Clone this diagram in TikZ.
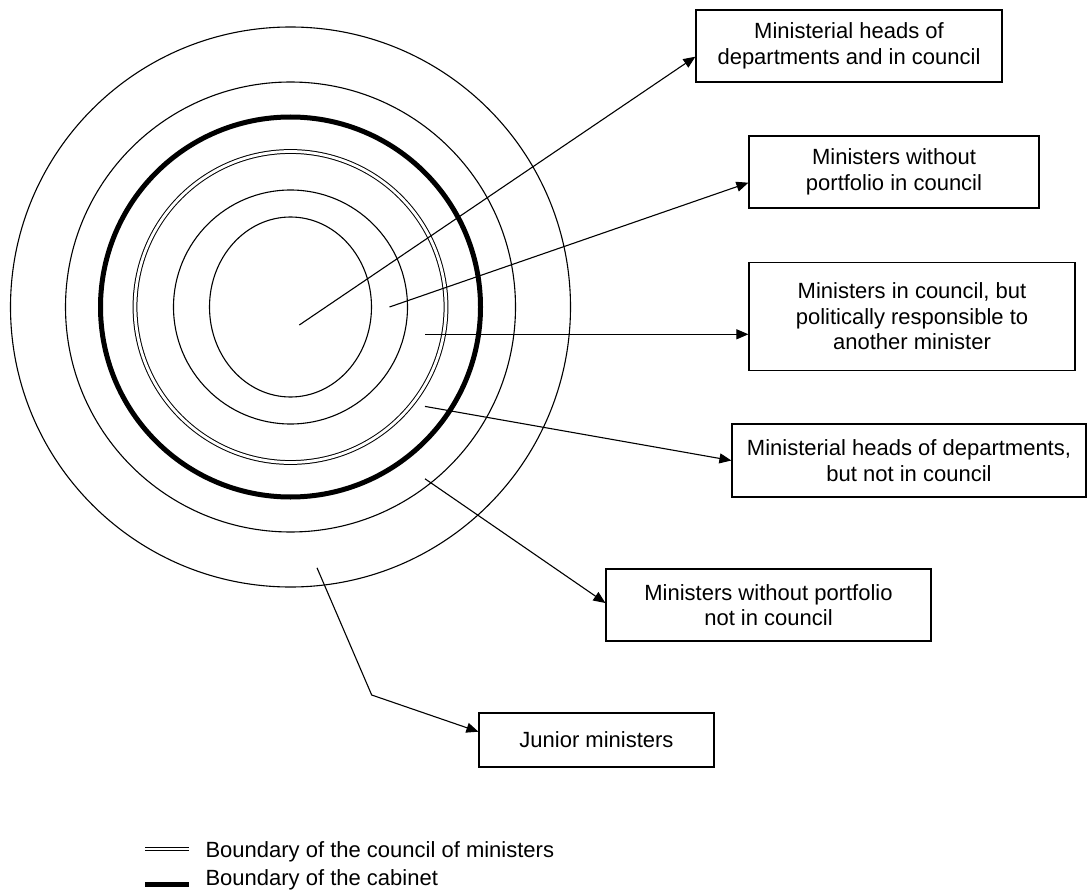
\documentclass[tikz,border=0pt]{standalone}
\usepackage{fontspec}
\setmainfont{Liberation Sans}
\usetikzlibrary{arrows.meta}

\begin{document}
\begin{tikzpicture}[x=1pt, y=-1pt, line width=1.1pt,
		box/.style={draw, line width=1.2pt, align=center, inner sep=0pt,
			font=\fontsize{22}{25.5}\selectfont},
		pointer/.style={-{Triangle[length=12pt, width=10pt]}},
		council/.style={double, double distance=2.8pt, line width=1pt},
		cabinet/.style={line width=5pt}]
		\useasboundingbox (0, 0) rectangle (1089, 893);
		% rings
		\draw (290.5, 307) circle [radius=280pt];
		\draw (290.5, 307) circle [radius=225pt];
		\draw [cabinet] (290.5, 307) circle [radius=190pt];
		\draw [council] (290.5, 307) circle [radius=155.5pt];
		\draw (290.5, 307) circle [radius=117pt];
		\draw (290.5, 307) ellipse [x radius=81pt, y radius=90pt];
		% boxes
		\node [box, minimum width=306pt, minimum height=72pt] (heads) at (849, 46) {Ministerial heads of\\departments and in council};
		\node [box, minimum width=290pt, minimum height=72pt] (noport) at (894, 172) {Ministers without\\portfolio in council};
		\node [box, minimum width=326pt, minimum height=108pt] (resp) at (912, 316.5) {Ministers in council, but\\politically responsible to\\another minister};
		\node [box, minimum width=354pt, minimum height=73pt] (headsout) at (909, 460.5) {Ministerial heads of departments,\\but not in council};
		\node [box, minimum width=325pt, minimum height=72pt] (noportout) at (768.5, 605) {Ministers without portfolio\\not in council};
		\node [box, minimum width=235pt, minimum height=54pt] (junior) at (596.5, 740) {Junior ministers};
		% arrows
		\coordinate (r1) at (299.3, 325);
		\coordinate (r2) at (389.5, 307);
		\coordinate (r3) at (425, 334.3);
		\coordinate (r4) at (425, 406.4);
		\coordinate (r5) at (425, 478.8);
		\coordinate (r6) at (317, 567.8);
		\coordinate (bend) at (371.7, 695);
		\draw [pointer] (r1) -- ([yshift=-10.7pt]heads.west);
		\draw [pointer] (r2) -- ([yshift=-10.7pt]noport.west);
		\draw [pointer] (r3) -- ([yshift=-17.8pt]resp.west);
		\draw [pointer] (r4) -- (headsout.west);
		\draw [pointer] (r5) -- ([yshift=2pt]noportout.west);
		\draw [pointer] (r6) -- (bend) -- ([yshift=8.3pt]junior.west);
		% legend
		\coordinate (c1) at (145, 849);
		\coordinate (c2) at (189, 849);
		\coordinate (k1) at (145, 884);
		\coordinate (k2) at (189, 884);
		\draw [council] (c1) -- (c2);
		\draw [cabinet] (k1) -- (k2);
		\node [anchor=west, inner sep=0pt, font=\fontsize{22}{25}\selectfont] (lcouncil) at (205, 852) {Boundary of the council of ministers};
		\node [anchor=west, inner sep=0pt, font=\fontsize{22}{25}\selectfont] (lcabinet) at (205, 880) {Boundary of the cabinet};
	\end{tikzpicture}
\end{document}
